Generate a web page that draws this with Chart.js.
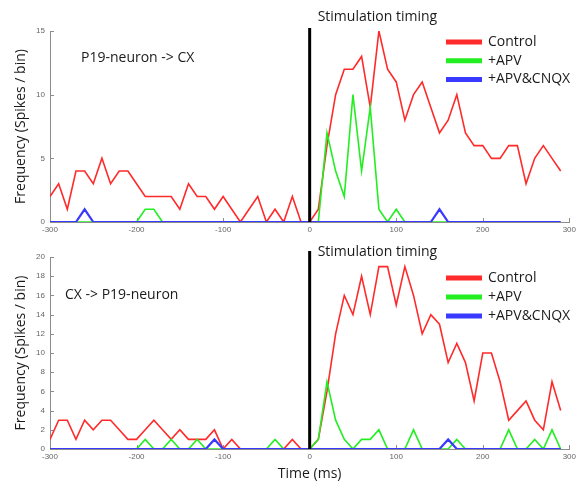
<!DOCTYPE html>
<html><head><meta charset="utf-8">
<script src="https://cdn.jsdelivr.net/npm/chart.js@4.4.1/dist/chart.umd.min.js"></script>
<style>
html,body{margin:0;padding:0;background:#fff;}
#wrap{position:relative;width:579px;height:485px;overflow:hidden;background:#fff;}
canvas{position:absolute;left:0;}
</style></head><body>
<div id="wrap">
<canvas id="c1" width="579" height="240" style="top:0px"></canvas>
<canvas id="c2" width="579" height="245" style="top:240px"></canvas>
</div>
<script>
// ---- data ----
const timeBins = [-300,-290,-280,-270,-260,-250,-240,-230,-220,-210,-200,-190,-180,-170,-160,-150,-140,-130,-120,-110,-100,-90,-80,-70,-60,-50,-40,-30,-20,-10,
  0,10,20,30,40,50,60,70,80,90,100,110,120,130,140,150,160,170,180,190,200,210,220,230,240,250,260,270,280,290];
const stimulationTime = 0;
const seriesNames = ['Control', '+APV', '+APV&CNQX'];

const topControl = [2,3,1,4,4,3,5,3,4,4,3,2,2,2,2,1,3,2,2,1,2,1,0,1,2,0,1,0,2,0,
  0,1,6,10,12,12,13,9,15,12,11,8,10,11,9,7,8,10,7,6,6,5,5,6,6,3,5,6,5,4];
const topAPV = [0,0,0,0,0,0,0,0,0,0,0,1,1,0,0,0,0,0,0,0,0,0,0,0,0,0,0,0,0,0,
  0,0,7,4,2,10,4,9,1,0,1,0,0,0,0,0,0,0,0,0,0,0,0,0,0,0,0,0,0,0];
const topCNQX = [0,0,0,0,1,0,0,0,0,0,0,0,0,0,0,0,0,0,0,0,0,0,0,0,0,0,0,0,0,0,
  0,0,0,0,0,0,0,0,0,0,0,0,0,0,0,1,0,0,0,0,0,0,0,0,0,0,0,0,0,0];

const botControl = [1,3,3,1,3,2,3,3,2,1,1,2,3,2,1,2,1,1,1,2,0,1,0,0,0,0,0,0,1,0,
  0,1,6,12,16,14,18,14,19,19,15,19,16,12,14,13,9,11,9,5,10,10,7,3,4,5,3,2,7,4];
const botAPV = [0,0,0,0,0,0,0,0,0,0,0,1,0,0,1,0,0,1,0,0,0,0,0,0,0,0,1,0,0,0,
  0,1,7,3,1,0,1,1,2,0,0,0,2,0,0,0,0,1,0,0,0,0,0,2,0,0,1,0,2,0];
const botCNQX = [0,0,0,0,0,0,0,0,0,0,0,0,0,0,0,0,0,0,0,1,0,0,0,0,0,0,0,0,0,0,
  0,0,0,0,0,0,0,0,0,0,0,0,0,0,0,0,1,0,0,0,0,0,0,0,0,0,0,0,0,0];

const xTicks = [-300,-200,-100,0,100,200,300];
const xTickLabels = ['-300','-200','-100','0','100','200','300'];
const topYTicks = [0,5,10,15];
const botYTicks = [0,2,4,6,8,10,12,14,16,18,20];

// ---- styling ----
const colors = ['#ff2a2a', '#22ee22', '#3a3aff'];
const widths = [1.6, 1.6, 2.2];
const FONT = "'Open Sans', 'DejaVu Sans', sans-serif";
const TICKFONT = "'Liberation Sans', Arial, sans-serif";

function pts(vals){ return timeBins.map((t,i)=>({x:t, y:vals[i]})); }

const decor = {
  id: 'decor',
  beforeDatasetsDraw(chart, args, o) {
    const ctx = chart.ctx, ca = chart.chartArea, xs = chart.scales.x, ys = chart.scales.y;
    ctx.save();
    ctx.strokeStyle = '#8c8c8c'; ctx.lineWidth = 1;
    ys.ticks.forEach(t => { const y = Math.round(ys.getPixelForValue(t.value)) + 0.5;
      ctx.beginPath(); ctx.moveTo(ca.left, y); ctx.lineTo(ca.left + 4, y); ctx.stroke(); });
    xs.ticks.forEach(t => { const x = Math.round(xs.getPixelForValue(t.value)) + 0.5;
      ctx.beginPath(); ctx.moveTo(x, ca.bottom); ctx.lineTo(x, ca.bottom - 4); ctx.stroke(); });
    ctx.restore();
  },
  afterDraw(chart, args, o) {
    const ctx = chart.ctx, ca = chart.chartArea, xs = chart.scales.x;
    ctx.save();
    // stimulation line
    const sx = xs.getPixelForValue(stimulationTime);
    ctx.strokeStyle = '#000'; ctx.lineWidth = 3;
    ctx.beginPath(); ctx.moveTo(sx, ca.top - o.stimExtend); ctx.lineTo(sx, ca.bottom); ctx.stroke();
    ctx.fillStyle = '#1a1a1a'; ctx.font = '14px ' + FONT; ctx.textBaseline = 'middle'; ctx.textAlign = 'left';
    ctx.fillText('Stimulation timing', sx + 8, o.stimTextY);
    // panel label
    ctx.fillText(o.panelLabel, o.panelX, o.panelY);
    // legend
    chart.data.datasets.forEach((ds, i) => {
      const y = o.legY + i * o.legGap;
      ctx.strokeStyle = ds.borderColor; ctx.lineWidth = 5;
      ctx.beginPath(); ctx.moveTo(o.legX, y); ctx.lineTo(o.legX + 36, y); ctx.stroke();
      ctx.fillStyle = '#1a1a1a';
      ctx.fillText(ds.label, o.legX + 42, y);
    });
    ctx.restore();
  }
};

function makeChart(id, series, yTicks, yMax, cfg) {
  const datasets = series.map((vals, i) => ({
    label: seriesNames[i], data: pts(vals), borderColor: colors[i], backgroundColor: colors[i],
    borderWidth: widths[i], pointRadius: 0, tension: 0, fill: false, order: 10 - i
  }));
  return new Chart(document.getElementById(id), {
    type: 'line',
    data: { datasets },
    options: {
      responsive: false, animation: false, devicePixelRatio: 1,
      layout: { padding: { top: cfg.padTop, right: 9, left: 0, bottom: 0 } },
      plugins: { legend: { display: false }, tooltip: { enabled: false }, decor: cfg.decor },
      scales: {
        x: {
          type: 'linear', min: -300, max: 300,
          afterBuildTicks: s => { s.ticks = xTicks.map(v => ({ value: v })); },
          afterFit: s => { s.height = cfg.xHeight; },
          grid: { display: false, drawTicks: false },
          border: { display: true, color: '#8c8c8c', width: 1 },
          ticks: { padding: 3, color: '#666', font: { family: TICKFONT, size: 8 }, maxRotation: 0,
            callback: v => xTickLabels[xTicks.indexOf(v)] },
          title: cfg.xTitle ? { display: true, text: 'Time (ms)', color: '#1a1a1a', font: { family: FONT, size: 14 }, padding: { top: 0, bottom: 3 } } : { display: false }
        },
        y: {
          type: 'linear', min: 0, max: yMax,
          afterBuildTicks: s => { s.ticks = yTicks.map(v => ({ value: v })); },
          afterFit: s => { s.width = 50; },
          grid: { display: false, drawTicks: false },
          border: { display: true, color: '#8c8c8c', width: 1 },
          ticks: { padding: 5, color: '#666', font: { family: TICKFONT, size: 8 } },
          title: { display: true, text: 'Frequency (Spikes / bin)', color: '#1a1a1a', font: { family: FONT, size: 14 }, padding: { top: 13, bottom: 0 } }
        }
      }
    },
    plugins: [decor]
  });
}

makeChart('c1', [topControl, topAPV, topCNQX], topYTicks, 15, {
  padTop: 31, xHeight: 18, xTitle: false,
  decor: { stimExtend: 3, stimTextY: 17, panelLabel: 'P19-neuron -> CX', panelX: 81, panelY: 58,
           legX: 446, legY: 42, legGap: 18.7 }
});
makeChart('c2', [botControl, botAPV, botCNQX], botYTicks, 20, {
  padTop: 17, xHeight: 36, xTitle: true,
  decor: { stimExtend: 6, stimTextY: 12, panelLabel: 'CX -> P19-neuron', panelX: 65, panelY: 55,
           legX: 446, legY: 38, legGap: 19 }
});
</script>
</body></html>
